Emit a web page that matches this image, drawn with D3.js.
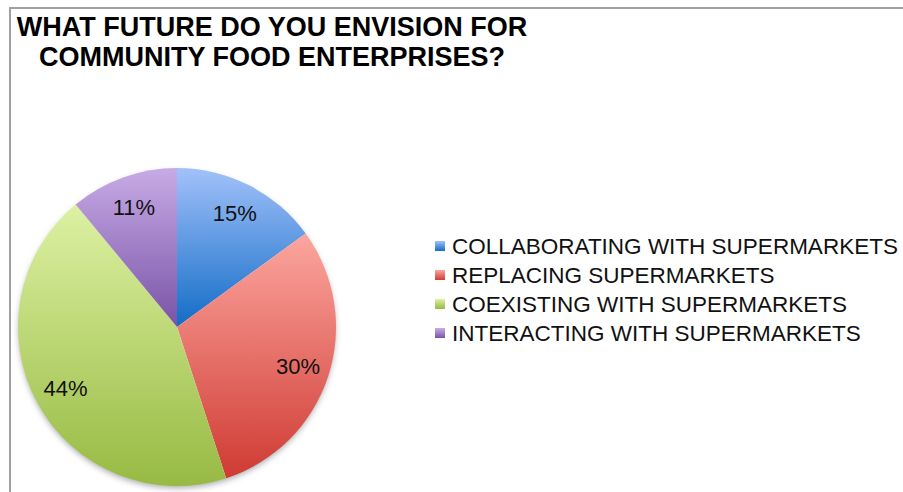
<!DOCTYPE html>
<html>
<head>
<meta charset="utf-8">
<script src="https://cdn.jsdelivr.net/npm/d3@7"></script>
<style>
  body { margin: 0; background: #fff; }
  svg { display: block; font-family: Arial, "Liberation Sans", sans-serif; }
</style>
</head>
<body>
<svg id="chart" width="903" height="492"></svg>
<script>
// chart data
var categories = ['COLLABORATING WITH SUPERMARKETS', 'REPLACING SUPERMARKETS',
    'COEXISTING WITH SUPERMARKETS', 'INTERACTING WITH SUPERMARKETS'];
var values = [15, 30, 44, 11];
var titleLines = ['WHAT FUTURE DO YOU ENVISION FOR', 'COMMUNITY FOOD ENTERPRISES?'];
// light (top) / dark (bottom) gradient stops per slice
var colorsTop = ['#a2c1fa', '#fca69f', '#ddf1a3', '#c7abe6'];
var colorsBottom = ['#126cc6', '#cf3b33', '#97ba43', '#7953a6'];

var svg = d3.select('#chart');
var W = 903, H = 492;
var cx = 177, cy = 327, r = 159;

var defs = svg.append('defs');
categories.forEach(function (c, i) {
    var g = defs.append('linearGradient').attr('id', 'grad' + i)
        .attr('x1', 0).attr('y1', 0).attr('x2', 0).attr('y2', 1);
    g.append('stop').attr('offset', '0%').attr('stop-color', colorsTop[i]);
    g.append('stop').attr('offset', '100%').attr('stop-color', colorsBottom[i]);
});
var shadow = defs.append('filter').attr('id', 'shadow')
    .attr('x', '-10%').attr('y', '-10%').attr('width', '120%').attr('height', '125%');
shadow.append('feDropShadow').attr('dx', 0).attr('dy', 3).attr('stdDeviation', 3)
    .attr('flood-color', '#000').attr('flood-opacity', 0.35);

// frame
svg.append('path')
    .attr('d', 'M10,' + H + ' V8 H' + W)
    .attr('fill', 'none').attr('stroke', '#a0a0a0').attr('stroke-width', 2);

// title
svg.append('g').selectAll('text').data(titleLines).enter().append('text')
    .attr('x', 272).attr('y', function (d, i) { return 36 + i * 30; })
    .attr('text-anchor', 'middle')
    .attr('font-size', 27).attr('font-weight', 'bold').attr('fill', '#000')
    .text(function (d) { return d; });

// pie
var pie = d3.pie().sort(null).value(function (d) { return d; });
var arcs = pie(values);
var arc = d3.arc().innerRadius(0).outerRadius(r);
var labelArc = d3.arc().innerRadius(r * 0.8).outerRadius(r * 0.8);

var gPie = svg.append('g').attr('transform', 'translate(' + cx + ',' + cy + ')');
gPie.append('circle').attr('r', r - 1).attr('fill', '#fff').attr('filter', 'url(#shadow)');
gPie.selectAll('path').data(arcs).enter().append('path')
    .attr('d', arc)
    .attr('fill', function (d, i) { return 'url(#grad' + i + ')'; });

gPie.selectAll('text').data(arcs).enter().append('text')
    .attr('transform', function (d) { return 'translate(' + labelArc.centroid(d) + ')'; })
    .attr('text-anchor', 'middle').attr('dy', '0.35em')
    .attr('font-size', 22).attr('fill', '#111')
    .text(function (d) { return d.data + '%'; });

// legend
var legend = svg.append('g').attr('transform', 'translate(435,246)');
var rows = legend.selectAll('g').data(categories).enter().append('g')
    .attr('transform', function (d, i) { return 'translate(0,' + i * 29 + ')'; });
rows.append('rect').attr('x', 0).attr('y', -5).attr('width', 10).attr('height', 10)
    .attr('fill', function (d, i) { return 'url(#grad' + i + ')'; });
rows.append('text').attr('x', 17).attr('y', 0).attr('dy', '0.36em')
    .attr('font-size', 22.5).attr('fill', '#111')
    .text(function (d) { return d; });
</script>
</body>
</html>
